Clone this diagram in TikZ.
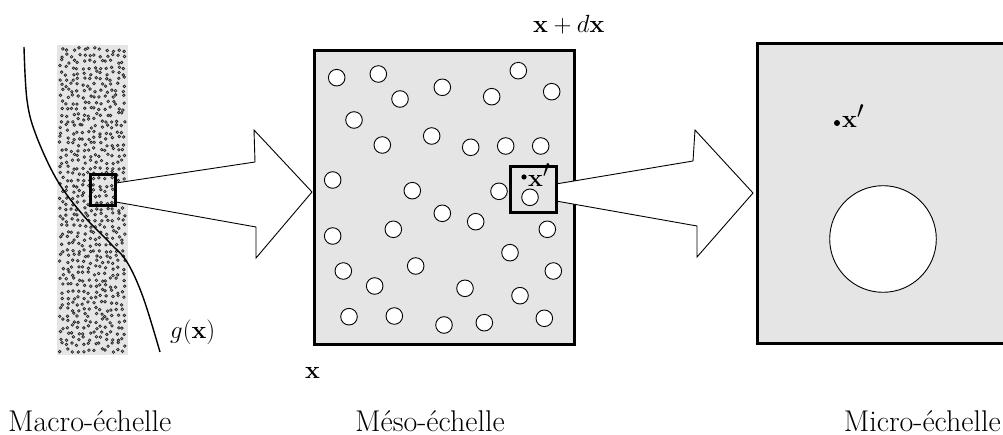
\documentclass[tikz,border=0pt]{standalone}
\usepackage[no-math]{fontspec}
\begin{document}
\begin{tikzpicture}[x=1pt,y=-1pt,
  lbl/.style={inner sep=0pt,font=\fontsize{30}{36}\selectfont},
  mlbl/.style={inner sep=0pt,font=\fontsize{33}{40}\selectfont},
  thickbox/.style={draw=black,line width=3pt},
  grain/.style={draw=black!85,line width=0.75pt},
  pore/.style={draw=black,fill=white,line width=0.9pt},
  bigarrow/.style={draw=black,fill=white,line width=0.9pt,line join=miter},
  curvestyle/.style={draw=black,line width=1.4pt}]
\useasboundingbox (0,0) rectangle (1003,435);
% macro strip
\fill[gray!20] (57,45) rectangle (128,355);
\pgfmathsetseed{17}
\foreach \i in {0,...,11}{
  \foreach \j in {0,...,51}{
    \pgfmathsetmacro\xx{59.5+\i*5.6+rnd*4}
    \pgfmathsetmacro\yy{47.5+\j*5.9+rnd*4}
    \draw[grain] (\xx,\yy) circle[radius=1.3pt];
  }
}
\draw[curvestyle] plot[smooth,tension=0.6] coordinates {(24,47) (27,100) (36,135) (57,180) (83,215) (110,243) (127,262) (143,297) (160,352)};
% meso box
\draw[thickbox,fill=gray!20] (314,51) rectangle (574,344);
\foreach \cx/\cy in {336.7/77.7, 378.3/74, 400/99, 442.3/87.3, 491.7/96.7, 518.3/70.7, 551.7/91.7,
  354/120, 382.3/145, 431.7/136, 470.7/147.3, 505.7/146, 540.7/146,
  332.7/180, 412.3/190.7, 499/191.3, 530/197.3, 442.3/213.3, 475.7/221.7, 393.3/229.3,
  332.7/236, 547.3/229.3, 510/252.7, 343.3/271, 415.7/266, 553.3/271, 374.7/286,
  465/288.3, 520/295.7, 349/316.7, 394.3/316, 444/325, 484.3/322.7, 544.3/318.3}{
  \draw[pore] (\cx,\cy) circle[radius=8.3pt];
}
% micro box
\draw[thickbox,fill=gray!20] (757,44) rectangle (1010,343);
\draw[pore] (883,239) circle[radius=53.3pt];
% arrows
\coordinate (a1s) at (116,183);
\coordinate (a1e) at (116,202);
\filldraw[bigarrow] (a1s) -- (255,162) -- (254,130) -- (312,192) -- (256,258) -- (256,227) -- (a1e);
\coordinate (a2s) at (556,184);
\coordinate (a2e) at (556,201);
\filldraw[bigarrow] (a2s) -- (693,161) -- (695,130) -- (753,193) -- (697,257) -- (697,226) -- (a2e);
% zoom squares
\draw[thickbox] (90,175) rectangle (115,206);
\draw[thickbox] (510,167) rectangle (556,213);
% points
\fill (524,177) circle[radius=2.6pt];
\node[mlbl,anchor=base west] (xpmeso) at (528,187) {$\mathbf{x}'$};
\fill (837,123) circle[radius=3pt];
\node[mlbl,anchor=base west] (xpmicro) at (842,128) {$\mathbf{x}'$};
% labels
\node[mlbl,anchor=base west] (xdx) at (533,33) {$\mathbf{x}+d\mathbf{x}$};
\node[mlbl,anchor=base west] (xlab) at (305,378) {$\mathbf{x}$};
\node[mlbl,anchor=base west] (glab) at (170,338) {$g(\mathbf{x})$};
\node[lbl,anchor=base west] (macro) at (8,431) {Macro-échelle};
\node[lbl,anchor=base west] (meso) at (355,431) {Méso-échelle};
\node[lbl,anchor=base east] (micro) at (1001,431) {Micro-échelle};
\end{tikzpicture}
\end{document}
